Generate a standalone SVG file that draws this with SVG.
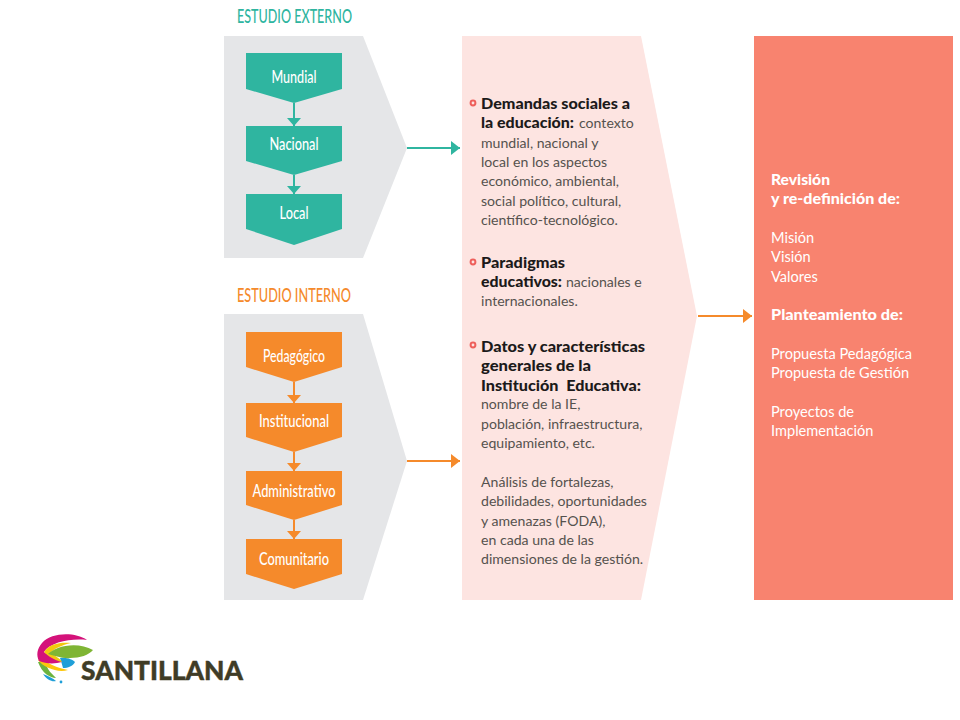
<svg xmlns="http://www.w3.org/2000/svg" width="960" height="720" viewBox="0 0 960 720">
<defs>
<marker id="ah-teal" markerUnits="userSpaceOnUse" markerWidth="10" markerHeight="14" refX="9" refY="7" orient="auto"><path d="M0,0L9,7L0,14Z" fill="#2fb5a0"/></marker>
<marker id="ah-orange" markerUnits="userSpaceOnUse" markerWidth="10" markerHeight="14" refX="9" refY="7" orient="auto"><path d="M0,0L9,7L0,14Z" fill="#f58a2b"/></marker>
<marker id="dn-teal" markerUnits="userSpaceOnUse" markerWidth="14" markerHeight="9" refX="7" refY="8" orient="0"><path d="M0,0H14L7,8Z" fill="#2fb5a0"/></marker>
<marker id="dn-orange" markerUnits="userSpaceOnUse" markerWidth="14" markerHeight="9" refX="7" refY="8" orient="0"><path d="M0,0H14L7,8Z" fill="#f58a2b"/></marker>
</defs>
<style>
.panel{fill:#e5e6e8}
.teal{fill:#2fb5a0}
.orange{fill:#f58a2b}
.hd{font-family:"Lato","Liberation Sans",sans-serif;font-size:20px;font-weight:500}
.lb{font-family:"Lato","Liberation Sans",sans-serif;font-size:18px;font-weight:500;fill:#fff;text-anchor:middle}
.body{font-family:"Lato","Liberation Sans",sans-serif;font-size:14.1px;fill:#55524e}
.bd{font-family:"Lato","Liberation Sans",sans-serif;font-size:15px;font-weight:900;fill:#1c1a1a}
.side{font-family:"Lato","Liberation Sans",sans-serif;font-size:14.6px;fill:#fff}
.sb{font-family:"Lato","Liberation Sans",sans-serif;font-size:14.6px;font-weight:900;fill:#fff}
.bullet{fill:none;stroke:#ee5f5b;stroke-width:2}
.cl{fill:none;stroke-width:2}
</style>
<rect width="960" height="720" fill="#fff"/>

<g id="estudio-externo">
<text class="hd" x="237" y="23" fill="#2fb5a0" textLength="115" lengthAdjust="spacingAndGlyphs">ESTUDIO EXTERNO</text>
<path class="panel" d="M224,36H363L407,148L363,258H224Z"/>
</g>
<g id="estudio-interno">
<text class="hd" x="237" y="302" fill="#f58a2b" textLength="114" lengthAdjust="spacingAndGlyphs">ESTUDIO INTERNO</text>
<path class="panel" d="M224,314H363L407,461L363,600H224Z"/>
</g>

<g id="mundial"><path class="teal" d="M246,53H342V89L294,103L246,89Z"/><text class="lb" x="294" y="83" textLength="45" lengthAdjust="spacingAndGlyphs">Mundial</text></g>
<g id="nacional"><path class="teal" d="M246,126H342V161L294,175L246,161Z"/><text class="lb" x="294" y="150" textLength="49" lengthAdjust="spacingAndGlyphs">Nacional</text></g>
<g id="local"><path class="teal" d="M246,194H342V229L294,245L246,229Z"/><text class="lb" x="294" y="219" textLength="29" lengthAdjust="spacingAndGlyphs">Local</text></g>
<g id="pedagogico"><path class="orange" d="M246,332H342V367L294,382L246,367Z"/><text class="lb" x="294" y="362" textLength="62" lengthAdjust="spacingAndGlyphs">Pedagógico</text></g>
<g id="institucional"><path class="orange" d="M246,403H342V437L294,452L246,437Z"/><text class="lb" x="294" y="427" textLength="70" lengthAdjust="spacingAndGlyphs">Institucional</text></g>
<g id="administrativo"><path class="orange" d="M246,471H342V505L294,520L246,505Z"/><text class="lb" x="294" y="497" textLength="83" lengthAdjust="spacingAndGlyphs">Administrativo</text></g>
<g id="comunitario"><path class="orange" d="M246,539H342V574L294,589L246,574Z"/><text class="lb" x="294" y="565" textLength="70" lengthAdjust="spacingAndGlyphs">Comunitario</text></g>

<g id="analisis">
<path d="M462,36H641L697,316L641,600H462Z" fill="#fde4e1"/>
<circle class="bullet" cx="473" cy="103" r="2.4"/>
<circle class="bullet" cx="473" cy="262" r="2.4"/>
<circle class="bullet" cx="473" cy="345" r="2.4"/>
<text class="bd" x="481" y="109" textLength="149" lengthAdjust="spacingAndGlyphs">Demandas sociales a</text>
<text class="bd" x="481" y="128" textLength="93" lengthAdjust="spacingAndGlyphs">la educación:</text>
<text class="bd" x="481" y="268" textLength="84" lengthAdjust="spacingAndGlyphs">Paradigmas</text>
<text class="bd" x="481" y="287" textLength="81" lengthAdjust="spacingAndGlyphs">educativos:</text>
<text class="bd" x="481" y="352" textLength="164" lengthAdjust="spacingAndGlyphs">Datos y características</text>
<text class="bd" x="481" y="371" textLength="110" lengthAdjust="spacingAndGlyphs">generales de la</text>
<text class="bd" x="481" y="391" xml:space="preserve" textLength="160" lengthAdjust="spacingAndGlyphs">Institución  Educativa:</text>
<text class="body">
<tspan x="579" y="128">contexto</tspan>
<tspan x="481" y="148">mundial, nacional y</tspan>
<tspan x="481" y="167">local en los aspectos</tspan>
<tspan x="481" y="186">económico, ambiental,</tspan>
<tspan x="481" y="206">social político, cultural,</tspan>
<tspan x="481" y="225">científico-tecnológico.</tspan>
<tspan x="566" y="287">nacionales e</tspan>
<tspan x="481" y="306">internacionales.</tspan>
<tspan x="481" y="409">nombre de la IE,</tspan>
<tspan x="481" y="429">población, infraestructura,</tspan>
<tspan x="481" y="448">equipamiento, etc.</tspan>
<tspan x="481" y="487">Análisis de fortalezas,</tspan>
<tspan x="481" y="506">debilidades, oportunidades</tspan>
<tspan x="481" y="526">y amenazas (FODA),</tspan>
<tspan x="481" y="545">en cada una de las</tspan>
<tspan x="481" y="564">dimensiones de la gestión.</tspan>
</text>
</g>

<g id="resultado">
<rect x="754" y="36" width="199" height="564" fill="#f8836f"/>
<text class="sb" x="771" y="185" textLength="59" lengthAdjust="spacingAndGlyphs">Revisión</text>
<text class="sb" x="771" y="204" textLength="129" lengthAdjust="spacingAndGlyphs">y re-definición de:</text>
<text class="sb" x="771" y="320" textLength="132" lengthAdjust="spacingAndGlyphs">Planteamiento de:</text>
<text class="side">
<tspan x="771" y="243">Misión</tspan>
<tspan x="771" y="262">Visión</tspan>
<tspan x="771" y="282">Valores</tspan>
<tspan x="771" y="359">Propuesta Pedagógica</tspan>
<tspan x="771" y="378">Propuesta de Gestión</tspan>
<tspan x="771" y="417">Proyectos de</tspan>
<tspan x="771" y="436">Implementación</tspan>
</text>
</g>

<g id="connectors">
<path class="cl" stroke="#2fb5a0" d="M294,103V126" marker-end="url(#dn-teal)"/>
<path class="cl" stroke="#2fb5a0" d="M294,175V194" marker-end="url(#dn-teal)"/>
<path class="cl" stroke="#f58a2b" d="M294,382V403" marker-end="url(#dn-orange)"/>
<path class="cl" stroke="#f58a2b" d="M294,452V471" marker-end="url(#dn-orange)"/>
<path class="cl" stroke="#f58a2b" d="M294,520V539" marker-end="url(#dn-orange)"/>
<path class="cl" stroke="#2fb5a0" d="M407,148H460" marker-end="url(#ah-teal)"/>
<path class="cl" stroke="#f58a2b" d="M407,461H460" marker-end="url(#ah-orange)"/>
<path class="cl" stroke="#f58a2b" d="M698,316H752" marker-end="url(#ah-orange)"/>
</g>

<g id="logo">
<path d="M38,662C42,673 50,678 56,678C50,672 46,668 46,662Z" fill="#6cb33f"/>
<path d="M43,674C47,680 52,682 56,681C53,678 48,676 43,674Z" fill="#1f9fd8"/>
<circle cx="61" cy="682" r="1.4" fill="#1f9fd8"/>
<path d="M38,660C44,668 58,673 68,670C60,668 50,666 42,658Z" fill="#fdc70c"/>
<path d="M60,658C67,657 73,660 75,662C73,666 68,668 63,668C62,664 61,661 60,658Z" fill="#1f9fd8"/>
<path d="M87,640C75,632 52,632 42,643C37,649 36,655 39,661C46,664 55,664 62,662C56,658 48,655 44,652C50,642 72,638 87,640Z" fill="#d4127a"/>
<path d="M44,652C49,644 60,642 71,643C62,645 54,649 50,653C55,656 60,658 62,662C54,660 48,656 44,652Z" fill="#f2c80f"/>
<path d="M93,650C83,644 68,644 58,648C53,650 50,652 48,654C56,656 64,659 70,658C80,658 89,655 93,650Z" fill="#7fb534"/>
<text x="81" y="680" font-family="Lato, 'Liberation Sans', sans-serif" font-weight="900" font-size="26" fill="#3f3c26" stroke="#3f3c26" stroke-width="0.4" textLength="162" lengthAdjust="spacingAndGlyphs">SANTILLANA</text>
</g>
</svg>
